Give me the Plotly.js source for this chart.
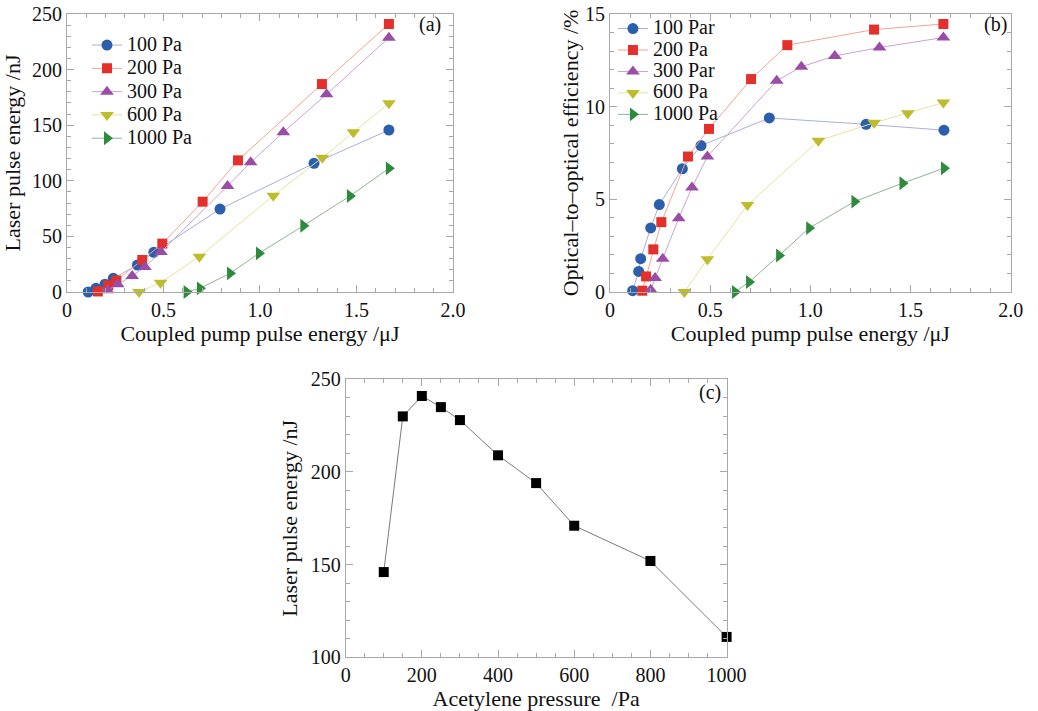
<!DOCTYPE html>
<html>
<head>
<meta charset="utf-8">
<script src="https://cdn.plot.ly/plotly-3.0.1.min.js"></script>
<style>html,body{margin:0;padding:0;background:#fff;}#chart{width:1038px;height:711px;}</style>
</head>
<body>
<div id="chart"></div>
<script>
// ---------- Data ----------
// Panel (a): laser pulse energy (nJ) vs coupled pump pulse energy (uJ)
const a100x = [0.11, 0.15, 0.197, 0.24, 0.365, 0.45, 0.793, 1.28, 1.668];
const a100y = [0, 3.3, 7.0, 12.3, 24.3, 35.7, 74.6, 115.7, 145.7];
const a200x = [0.16, 0.214, 0.256, 0.39, 0.494, 0.703, 0.886, 1.321, 1.668];
const a200y = [0.5, 6.0, 10.3, 28.8, 43.5, 81.2, 118.4, 187, 241];
const a300x = [0.21, 0.263, 0.338, 0.404, 0.487, 0.832, 0.952, 1.121, 1.345, 1.668];
const a300y = [1.5, 7.0, 14.5, 22.5, 36.0, 95.3, 116.6, 143.6, 177.8, 228.7];
const a600x = [0.373, 0.485, 0.686, 1.069, 1.323, 1.484, 1.668];
const a600y = [0, 8.4, 31.8, 86.6, 120.8, 143.6, 169.7];
const a1000x = [0.62, 0.689, 0.845, 0.995, 1.225, 1.466, 1.668];
const a1000y = [0, 3.3, 16.8, 34.8, 59.6, 86.3, 111.2];

// Panel (b): optical-to-optical efficiency (%) vs coupled pump pulse energy (uJ)
const b100x = [0.113, 0.143, 0.153, 0.203, 0.246, 0.361, 0.454, 0.795, 1.278, 1.667];
const b100y = [0.07, 1.11, 1.8, 3.46, 4.72, 6.65, 7.9, 9.39, 9.05, 8.73];
const b200x = [0.161, 0.18, 0.216, 0.256, 0.389, 0.494, 0.704, 0.885, 1.318, 1.664];
const b200y = [0.07, 0.84, 2.3, 3.77, 7.31, 8.8, 11.49, 13.32, 14.16, 14.46];
const b300x = [0.203, 0.225, 0.263, 0.343, 0.409, 0.486, 0.832, 0.955, 1.122, 1.345, 1.664];
const b300y = [0.12, 0.75, 1.79, 3.98, 5.64, 7.31, 11.4, 12.15, 12.74, 13.19, 13.73];
const b600x = [0.371, 0.486, 0.686, 1.04, 1.318, 1.486, 1.664];
const b600y = [0, 1.77, 4.69, 8.16, 9.13, 9.64, 10.22];
const b1000x = [0.624, 0.694, 0.844, 0.994, 1.22, 1.46, 1.667];
const b1000y = [0, 0.54, 1.97, 3.45, 4.88, 5.87, 6.68];

// Panel (c): laser pulse energy (nJ) vs acetylene pressure (Pa)
const cPressure = [100, 150, 200, 250, 300, 400, 500, 600, 800, 1000];
const cEnergy = [146, 230, 241, 235, 228, 209, 194, 171, 152, 111];

const legendA = ['100 Pa', '200 Pa', '300 Pa', '600 Pa', '1000 Pa'];
const legendB = ['100 Par', '200 Pa', '300 Par', '600 Pa', '1000 Pa'];
const xTickVals = [0, 0.5, 1, 1.5, 2];
const xTickText = ['0', '0.5', '1.0', '1.5', '2.0'];

// ---------- Styles ----------
const FONT = 'Liberation Serif, Times New Roman, serif';
const markerColors = ['#2b5eab', '#e3302a', '#9a4da6', '#bcbc2c', '#2e8a3d'];
const lineColors = ['#a9afdc', '#f2a494', '#c9a3d3', '#e4e49e', '#93b295'];
const symbols = ['circle', 'square', 'triangle-up', 'triangle-down', 'triangle-right'];
const sizes = [11, 10, 12, 12, 12];

function big(t) { return '<span style="font-size:20px">' + t + '</span>'; }

function series(xs, ys, i, name, xa, ya, leg) {
  return {
    x: xs, y: ys, name: big(name), type: 'scatter', mode: 'lines+markers',
    xaxis: xa, yaxis: ya, legend: leg, cliponaxis: false,
    line: {color: lineColors[i], width: 1},
    marker: {symbol: symbols[i], size: sizes[i], color: markerColors[i], line: {width: 0}}
  };
}

const aX = [a100x, a200x, a300x, a600x, a1000x];
const aY = [a100y, a200y, a300y, a600y, a1000y];
const bX = [b100x, b200x, b300x, b600x, b1000x];
const bY = [b100y, b200y, b300y, b600y, b1000y];

const traces = [];
for (let i = 0; i < 5; i++) traces.push(series(aX[i], aY[i], i, legendA[i], 'x', 'y', 'legend'));
for (let i = 0; i < 5; i++) traces.push(series(bX[i], bY[i], i, legendB[i], 'x2', 'y2', 'legend2'));
traces.push({
  x: cPressure, y: cEnergy, type: 'scatter', mode: 'lines+markers', xaxis: 'x3', yaxis: 'y3',
  showlegend: false, cliponaxis: false,
  line: {color: '#7a7a7a', width: 1},
  marker: {symbol: 'square', size: 10, color: '#000000'}
});

function axis(extra) {
  return Object.assign({
    showline: true, linecolor: '#a8a8a8', linewidth: 1, mirror: 'allticks',
    ticks: 'inside', ticklen: 7, tickcolor: '#a8a8a8', tickwidth: 1,
    showgrid: false, zeroline: false, automargin: false,
    tickfont: {family: FONT, size: 20, color: '#111'},
  }, extra);
}

const titleFont = {family: FONT, size: 22, color: '#111'};

const layout = {
  width: 1038, height: 711,
  margin: {l: 0, r: 0, t: 0, b: 0},
  paper_bgcolor: '#ffffff', plot_bgcolor: '#ffffff',
  font: {family: FONT, size: 20, color: '#111'},
  xaxis: axis({domain: [0.0645, 0.4364], anchor: 'y', range: [0, 2],
    tickvals: xTickVals, ticktext: xTickText,
    minor: {dtick: 0.1, ticks: 'inside', ticklen: 4, tickcolor: '#a8a8a8'},
    title: {text: 'Coupled pump pulse energy /μJ', font: titleFont, standoff: 4}}),
  yaxis: axis({domain: [0.5893, 0.9803], anchor: 'x', range: [0, 250], dtick: 50,
    minor: {dtick: 10, ticks: 'inside', ticklen: 4, tickcolor: '#a8a8a8'},
    title: {text: 'Laser pulse energy /nJ', font: titleFont, standoff: 6}}),
  xaxis2: axis({domain: [0.5877, 0.9737], anchor: 'y2', range: [0, 2],
    tickvals: xTickVals, ticktext: xTickText,
    minor: {dtick: 0.1, ticks: 'inside', ticklen: 4, tickcolor: '#a8a8a8'},
    title: {text: 'Coupled pump pulse energy /μJ', font: titleFont, standoff: 4}}),
  yaxis2: axis({domain: [0.5893, 0.9803], anchor: 'x2', range: [0, 15], dtick: 5,
    minor: {dtick: 1, ticks: 'inside', ticklen: 4, tickcolor: '#a8a8a8'},
    title: {text: 'Optical–to–optical efficiency /%', font: titleFont, standoff: 0}}),
  xaxis3: axis({domain: [0.333, 0.700], anchor: 'y3', range: [0, 1000], dtick: 200,
    minor: {dtick: 50, ticks: 'inside', ticklen: 4, tickcolor: '#a8a8a8'},
    title: {text: 'Acetylene pressure\u00a0 /Pa', font: titleFont, standoff: 4}}),
  yaxis3: axis({domain: [0.0755, 0.4665], anchor: 'x3', range: [100, 250], dtick: 50,
    minor: {dtick: 10, ticks: 'inside', ticklen: 4, tickcolor: '#a8a8a8'},
    title: {text: 'Laser pulse energy /nJ', font: titleFont, standoff: 6}}),
  legend: {x: 0.0838, y: 0.960, xanchor: 'left', yanchor: 'top', bgcolor: 'rgba(0,0,0,0)',
    font: {family: FONT, size: 15.6, color: '#111'}, borderwidth: 0, tracegroupgap: 0,
    itemwidth: 30},
  legend2: {x: 0.5905, y: 0.982, xanchor: 'left', yanchor: 'top', bgcolor: 'rgba(0,0,0,0)',
    font: {family: FONT, size: 14.2, color: '#111'}, borderwidth: 0, tracegroupgap: 0,
    itemwidth: 30},
  annotations: [
    {text: '(a)', xref: 'paper', yref: 'paper', x: 0.414, y: 0.965, xanchor: 'center', yanchor: 'middle',
     showarrow: false, font: {family: FONT, size: 20, color: '#111'}},
    {text: '(b)', xref: 'paper', yref: 'paper', x: 0.9586, y: 0.965, xanchor: 'center', yanchor: 'middle',
     showarrow: false, font: {family: FONT, size: 20, color: '#111'}},
    {text: '(c)', xref: 'paper', yref: 'paper', x: 0.684, y: 0.4473, xanchor: 'center', yanchor: 'middle',
     showarrow: false, font: {family: FONT, size: 20, color: '#111'}}
  ],
  showlegend: true
};

Plotly.newPlot('chart', traces, layout, {staticPlot: true, displayModeBar: false});
</script>
</body>
</html>
